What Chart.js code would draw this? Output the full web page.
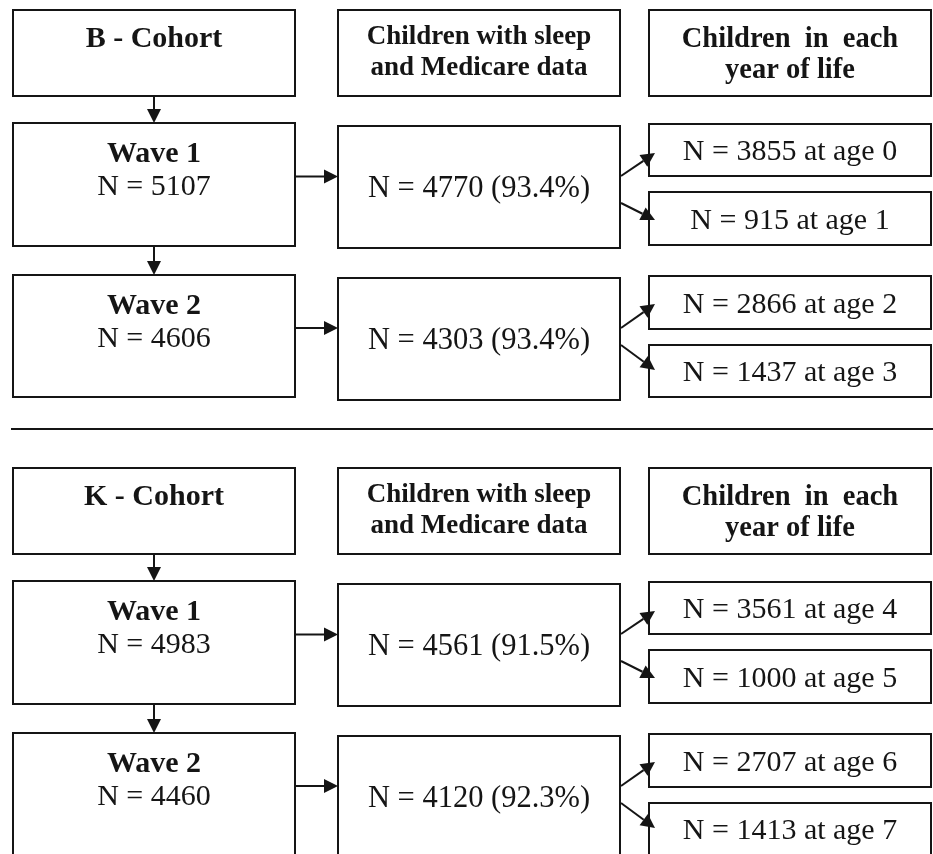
<!DOCTYPE html>
<html>
<head>
<meta charset="utf-8">
<script src="https://cdn.jsdelivr.net/npm/chart.js@4"></script>
<style>
  html, body { margin: 0; padding: 0; background: #fff; }
  #wrap { width: 933px; height: 854px; }
</style>
</head>
<body>
<div id="wrap"><canvas id="myChart"></canvas></div>
<script>
// Values
const cohorts = ['B - Cohort', 'K - Cohort'];
const linkedHeader = ['Children with sleep', 'and Medicare data'];
const yearHeader = ['Children  in  each', 'year of life'];
const waveLabels = ['Wave 1', 'Wave 2'];
const waveN = [[5107, 4606], [4983, 4460]];
const linkedN = [[4770, 4303], [4561, 4120]];
const linkedPct = [[93.4, 93.4], [91.5, 92.3]];
const yearN = [[3855, 915, 2866, 1437], [3561, 1000, 2707, 1413]];
const yearAge = [[0, 1, 2, 3], [4, 5, 6, 7]];

// Layout in chart units (x 0..933, y 0..854 top-down)
const cohortOffset = [0, 458];
const col1 = [13, 295], col2 = [338, 620], col3 = [649, 931];
const headerY = [10, 96];
const waveBoxY = [[123, 246], [275, 397]];
const linkedBoxY = [[126, 248], [278, 400]];
const yearBoxY = [[124, 176], [192, 245], [276, 329], [345, 397]];
const splitFrom = [[176, 203], [328, 345]];     // start y of the diagonal arrows
const splitTo = [[153, 220], [304, 370]];       // tip y of the diagonal arrows
const separatorY = 429;

const INK = '#151515';
const SERIF = '"Liberation Serif", "Times New Roman", serif';

const flowPlugin = {
    id: 'flow',
    afterDraw(chart) {
        const ctx = chart.ctx;
        const sx = v => chart.scales.x.getPixelForValue(v);
        const sy = v => chart.scales.y.getPixelForValue(v);

        function box(xr, y0, y1) {
            ctx.strokeRect(sx(xr[0]), sy(y0), sx(xr[1]) - sx(xr[0]), sy(y1) - sy(y0));
        }
        function arrow(x0, y0, x1, y1) {
            const a = Math.atan2(sy(y1) - sy(y0), sx(x1) - sx(x0));
            const L = 14, W = 7;
            ctx.beginPath();
            ctx.moveTo(sx(x0), sy(y0));
            ctx.lineTo(sx(x1) - Math.cos(a) * L, sy(y1) - Math.sin(a) * L);
            ctx.stroke();
            ctx.beginPath();
            ctx.moveTo(sx(x1), sy(y1));
            ctx.lineTo(sx(x1) - Math.cos(a) * L - Math.sin(a) * W, sy(y1) - Math.sin(a) * L + Math.cos(a) * W);
            ctx.lineTo(sx(x1) - Math.cos(a) * L + Math.sin(a) * W, sy(y1) - Math.sin(a) * L - Math.cos(a) * W);
            ctx.closePath();
            ctx.fill();
        }
        function text(str, xr, y, font) {
            ctx.font = font;
            ctx.fillText(str, sx((xr[0] + xr[1]) / 2), sy(y));
        }

        ctx.save();
        ctx.strokeStyle = INK;
        ctx.fillStyle = INK;
        ctx.lineWidth = 2;
        ctx.textAlign = 'center';
        ctx.textBaseline = 'alphabetic';

        // separator between the two cohorts
        ctx.beginPath();
        ctx.moveTo(sx(11), sy(separatorY));
        ctx.lineTo(sx(933), sy(separatorY));
        ctx.stroke();

        cohorts.forEach((name, c) => {
            const o = cohortOffset[c];
            const mid1 = (col1[0] + col1[1]) / 2;

            // header row
            box(col1, headerY[0] + o, headerY[1] + o);
            box(col2, headerY[0] + o, headerY[1] + o);
            box(col3, headerY[0] + o, headerY[1] + o);
            text(name, col1, headerY[0] + o + 37, 'bold 30px ' + SERIF);
            text(linkedHeader[0], col2, headerY[0] + o + 34, 'bold 27px ' + SERIF);
            text(linkedHeader[1], col2, headerY[0] + o + 65, 'bold 27px ' + SERIF);
            text(yearHeader[0], col3, headerY[0] + o + 37, 'bold 28.5px ' + SERIF);
            text(yearHeader[1], col3, headerY[0] + o + 68, 'bold 28.5px ' + SERIF);
            arrow(mid1, headerY[1] + o, mid1, waveBoxY[0][0] + o);

            waveLabels.forEach((w, i) => {
                const wy = waveBoxY[i], ly = linkedBoxY[i];
                box(col1, wy[0] + o, wy[1] + o);
                text(w, col1, wy[0] + o + 39, 'bold 30px ' + SERIF);
                text('N = ' + waveN[c][i], col1, wy[0] + o + 72, '30px ' + SERIF);
                if (i < waveLabels.length - 1) {
                    arrow(mid1, wy[1] + o, mid1, waveBoxY[i + 1][0] + o);
                }

                box(col2, ly[0] + o, ly[1] + o);
                const lc = (ly[0] + ly[1]) / 2 + o;
                text('N = ' + linkedN[c][i] + ' (' + linkedPct[c][i].toFixed(1) + '%)', col2, lc + 10, '30.5px ' + SERIF);
                arrow(col1[1], (wy[0] + wy[1]) / 2 + o - 8, col2[0], (wy[0] + wy[1]) / 2 + o - 8);

                for (let k = 0; k < 2; k++) {
                    const j = i * 2 + k;
                    const yb = yearBoxY[j];
                    box(col3, yb[0] + o, yb[1] + o);
                    text('N = ' + yearN[c][j] + ' at age ' + yearAge[c][j], col3, (yb[0] + yb[1]) / 2 + o + 10, '30px ' + SERIF);
                    arrow(col2[1] + 1, splitFrom[i][k] + o, col3[0] + 6, splitTo[i][k] + o);
                }
            });
        });
        ctx.restore();
    }
};

const myChart = new Chart(document.getElementById('myChart'), {
    type: 'scatter',
    data: { datasets: [{ data: [], pointRadius: 0 }] },
    options: {
        responsive: true,
        maintainAspectRatio: false,
        animation: false,
        layout: { padding: 0 },
        scales: {
            x: { type: 'linear', min: 0, max: 933, display: false },
            y: { type: 'linear', min: 0, max: 854, reverse: true, display: false }
        },
        plugins: {
            legend: { display: false },
            tooltip: { enabled: false }
        }
    },
    plugins: [flowPlugin]
});
</script>
</body>
</html>
